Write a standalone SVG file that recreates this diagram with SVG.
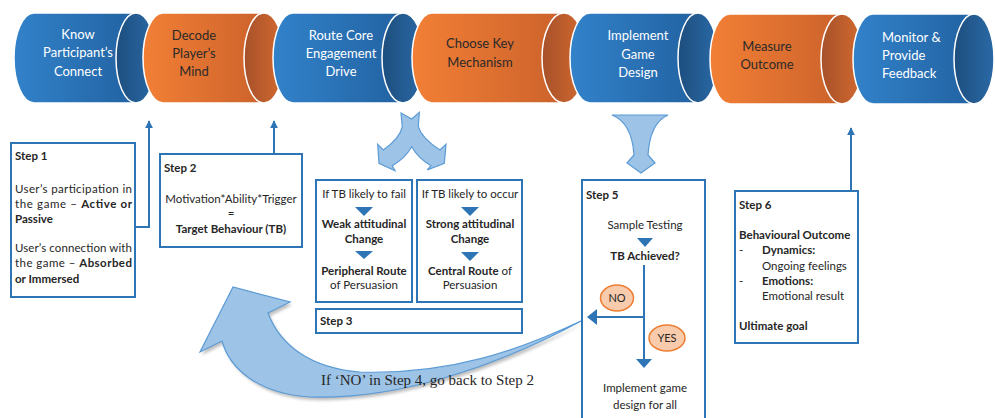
<svg xmlns="http://www.w3.org/2000/svg" width="995" height="418" viewBox="0 0 995 418">
<defs>
<linearGradient id="bBody" x1="0" y1="0" x2="1" y2="0"><stop offset="0" stop-color="#3282CA"/><stop offset="1" stop-color="#1F5D9B"/></linearGradient>
<linearGradient id="bCap" x1="0" y1="0" x2="1" y2="0"><stop offset="0" stop-color="#1D4E7E"/><stop offset="1" stop-color="#2A69A6"/></linearGradient>
<linearGradient id="oBody" x1="0" y1="0" x2="1" y2="0"><stop offset="0" stop-color="#F27F35"/><stop offset="1" stop-color="#C65E2A"/></linearGradient>
<linearGradient id="oCap" x1="0" y1="0" x2="1" y2="0"><stop offset="0" stop-color="#A7512A"/><stop offset="1" stop-color="#D36A2F"/></linearGradient>
<marker id="ah" viewBox="0 0 10 10" refX="9" refY="5" markerWidth="8" markerHeight="8" markerUnits="userSpaceOnUse" orient="auto"><path d="M0,0 L10,5 L0,10 Z" fill="#2E75B6"/></marker>
<filter id="sh" x="-10%" y="-10%" width="130%" height="130%"><feGaussianBlur stdDeviation="1.5"/></filter>
</defs>
<style>
.body{stroke:#fff;stroke-width:1.5}
.cap{stroke:#fff;stroke-width:1.5}
.ct{font-family:Lato,"Liberation Sans",sans-serif;font-size:13px;text-anchor:middle}
.w{fill:#fff}
.k{fill:#2a2a2a}
.box{fill:#fff;stroke:#2E75B6;stroke-width:2}
.t{font-family:Lato,"Liberation Sans",sans-serif;font-size:11.5px;fill:#262626}
.m{text-anchor:middle}
.b{font-weight:bold}
.tri{fill:#2E75B6}
.ln{fill:none;stroke:#2E75B6;stroke-width:2}
.big{fill:#9DC3E6;stroke:#5B9BD5;stroke-width:1.2}
.ov{fill:#F8CBAD;stroke:#ED7D31;stroke-width:1.5}
</style>
<rect width="995" height="418" fill="#fff"/>

<g id="cyl1">
<path class="body" fill="url(#bBody)" d="M34,13 L136,13 A20,45 0 0 1 136,103 L34,103 A20,45 0 0 1 34,13 Z"/>
<ellipse class="cap" fill="url(#bCap)" cx="136" cy="58" rx="20" ry="45"/>
<text class="ct w" x="78" y="39">Know</text>
<text class="ct w" x="78" y="57">Participant’s</text>
<text class="ct w" x="78" y="76">Connect</text>
</g>
<g id="cyl2">
<path class="body" fill="url(#oBody)" d="M163,13 L264,13 A20,45 0 0 1 264,103 L163,103 A20,45 0 0 1 163,13 Z"/>
<ellipse class="cap" fill="url(#oCap)" cx="264" cy="58" rx="20" ry="45"/>
<text class="ct k" x="194" y="40">Decode</text>
<text class="ct k" x="194" y="58">Player’s</text>
<text class="ct k" x="194" y="76">Mind</text>
</g>
<g id="cyl3">
<path class="body" fill="url(#bBody)" d="M293,13 L403,13 A21,45 0 0 1 403,103 L293,103 A20,45 0 0 1 293,13 Z"/>
<ellipse class="cap" fill="url(#bCap)" cx="403" cy="58" rx="21" ry="45"/>
<text class="ct w" x="341" y="40">Route Core</text>
<text class="ct w" x="341" y="58">Engagement</text>
<text class="ct w" x="341" y="76">Drive</text>
</g>
<g id="cyl4">
<path class="body" fill="url(#oBody)" d="M432,13 L564,13 A22,45 0 0 1 564,103 L432,103 A20,45 0 0 1 432,13 Z"/>
<ellipse class="cap" fill="url(#oCap)" cx="564" cy="58" rx="22" ry="45"/>
<text class="ct k" x="480" y="48">Choose Key</text>
<text class="ct k" x="480" y="67">Mechanism</text>
</g>
<g id="cyl5">
<path class="body" fill="url(#bBody)" d="M590,13 L698,13 A20,45 0 0 1 698,103 L590,103 A20,45 0 0 1 590,13 Z"/>
<ellipse class="cap" fill="url(#bCap)" cx="698" cy="58" rx="20" ry="45"/>
<text class="ct w" x="638" y="40">Implement</text>
<text class="ct w" x="638" y="59">Game</text>
<text class="ct w" x="638" y="77">Design</text>
</g>
<g id="cyl6">
<path class="body" fill="url(#oBody)" d="M730,14 L842,14 A21,45 0 0 1 842,104 L730,104 A20,45 0 0 1 730,14 Z"/>
<ellipse class="cap" fill="url(#oCap)" cx="842" cy="59" rx="21" ry="45"/>
<text class="ct k" x="767" y="51">Measure</text>
<text class="ct k" x="767" y="69">Outcome</text>
</g>
<g id="cyl7">
<path class="body" fill="url(#bBody)" d="M873,14 L974,14 A20,45 0 0 1 974,104 L873,104 A20,45 0 0 1 873,14 Z"/>
<ellipse class="cap" fill="url(#bCap)" cx="974" cy="59" rx="20" ry="45"/>
<text class="ct w" x="882" y="42" style="text-anchor:start">Monitor &amp;</text>
<text class="ct w" x="882" y="60" style="text-anchor:start">Provide</text>
<text class="ct w" x="882" y="78" style="text-anchor:start">Feedback</text>
</g>

<g id="connectors">
<polyline class="ln" points="135,227 149,227 149,121" marker-end="url(#ah)"/>
<line class="ln" x1="274" y1="154" x2="274" y2="121" marker-end="url(#ah)"/>
<line class="ln" x1="851" y1="191" x2="851" y2="128" marker-end="url(#ah)"/>
<path class="big" d="M401,113 L411.7,119 L419.3,112.3 L418.3,126.7 Q421.7,138.3 440,150 L446,144.3 L444.3,163.3 L427.3,170 L431,165.7 Q418.3,158.3 411.7,146.7 Q405,158.3 392.3,165.7 L395,170.7 L379,163.3 L377.7,144.3 L383.3,150 Q400,138.3 402.3,126.7 Z"/>
<path class="big" d="M612,115 L668,115 Q650,123 648,155 L655,163 L641,173 L627,163 L634,155 Q632,123 612,115 Z"/>
<path fill="#8a8a8a" opacity="0.55" filter="url(#sh)" d="M585,323 C502,368 402,403 312,400 C262,397 232,373 224,344 L202,355 L235,290 L292,305 L270,316 C282,348 312,371 362,375 C452,378 522,353 585,323 Z"/>
<path class="big" d="M583,320 C500,365 400,400 310,397 C260,394 230,370 222,341 L200,352 L233,287 L290,302 L268,313 C280,345 310,368 360,372 C450,375 520,350 583,320 Z"/>
</g>

<g id="step1">
<rect class="box" x="11" y="143" width="124" height="154"/>
<text class="t b" x="15" y="160">Step 1</text>
<text class="t" x="15" y="193" textLength="117" lengthAdjust="spacing">User’s participation in</text>
<text class="t" x="15" y="208" textLength="117" lengthAdjust="spacing">the game – <tspan class="b">Active or</tspan></text>
<text class="t b" x="15" y="223">Passive</text>
<text class="t" x="15" y="252" textLength="117" lengthAdjust="spacing">User’s connection with</text>
<text class="t" x="15" y="267" textLength="117" lengthAdjust="spacing">the game – <tspan class="b">Absorbed</tspan></text>
<text class="t b" x="15" y="283">or Immersed</text>
</g>

<g id="step2">
<rect class="box" x="160" y="154" width="142" height="93"/>
<text class="t b" x="164" y="172">Step 2</text>
<text class="t m" x="231" y="203">Motivation*Ability*Trigger</text>
<text class="t m" x="231" y="217">=</text>
<text class="t m b" x="231" y="233">Target Behaviour (TB)</text>
</g>

<g id="step3a">
<rect class="box" x="316" y="180" width="96" height="122"/>
<text class="t m" x="364" y="198">If TB likely to fail</text>
<polygon class="tri" points="355,207 373,207 364,216"/>
<text class="t m b" x="364" y="228">Weak attitudinal</text>
<text class="t m b" x="364" y="243">Change</text>
<polygon class="tri" points="355,251 373,251 364,259"/>
<text class="t m b" x="364" y="275">Peripheral Route</text>
<text class="t m" x="364" y="289">of Persuasion</text>
</g>
<g id="step3b">
<rect class="box" x="417" y="180" width="105" height="122"/>
<text class="t m" x="470" y="198">If TB likely to occur</text>
<polygon class="tri" points="461,207 479,207 470,216"/>
<text class="t m b" x="470" y="228">Strong attitudinal</text>
<text class="t m b" x="470" y="243">Change</text>
<polygon class="tri" points="461,252 479,252 470,261"/>
<text class="t m" x="470" y="275"><tspan class="b">Central Route</tspan> of</text>
<text class="t m" x="470" y="289">Persuasion</text>
</g>
<g id="step3">
<rect class="box" x="316" y="309" width="206" height="24"/>
<text class="t b" x="320" y="325">Step 3</text>
</g>

<g id="step5">
<rect class="box" x="582" y="180" width="123" height="245"/>
<text class="t b" x="586" y="199">Step 5</text>
<text class="t m" x="645" y="229">Sample Testing</text>
<polygon class="tri" points="637,238 653,238 645,247"/>
<text class="t m b" x="645" y="260">TB Achieved?</text>
<line class="ln" x1="644" y1="265" x2="644" y2="360"/>
<polygon class="tri" points="636,359 652,359 644,368"/>
<line class="ln" x1="644" y1="317" x2="595" y2="317"/>
<polygon class="tri" points="587,317 597,309 597,325"/>
<ellipse class="ov" cx="617" cy="298" rx="16.5" ry="13"/>
<text class="t m" x="617" y="302" style="font-size:11px">NO</text>
<ellipse class="ov" cx="667" cy="338" rx="18" ry="13"/>
<text class="t m" x="667" y="342" style="font-size:11px">YES</text>
<text class="t m" x="645" y="392">Implement game</text>
<text class="t m" x="645" y="409">design for all</text>
</g>

<g id="step6">
<rect class="box" x="735" y="191" width="123" height="152"/>
<text class="t b" x="739" y="209">Step 6</text>
<text class="t b" x="739" y="239">Behavioural Outcome</text>
<text class="t" x="739" y="254">-</text>
<text class="t b" x="762" y="254">Dynamics:</text>
<text class="t" x="762" y="270">Ongoing feelings</text>
<text class="t" x="739" y="285">-</text>
<text class="t b" x="762" y="285">Emotions:</text>
<text class="t" x="762" y="300">Emotional result</text>
<text class="t b" x="739" y="330">Ultimate goal</text>
</g>

<text x="321" y="385" font-family="'Liberation Serif',serif" font-size="15" fill="#262626">If ‘NO’ in Step 4, go back to Step 2</text>
</svg>
